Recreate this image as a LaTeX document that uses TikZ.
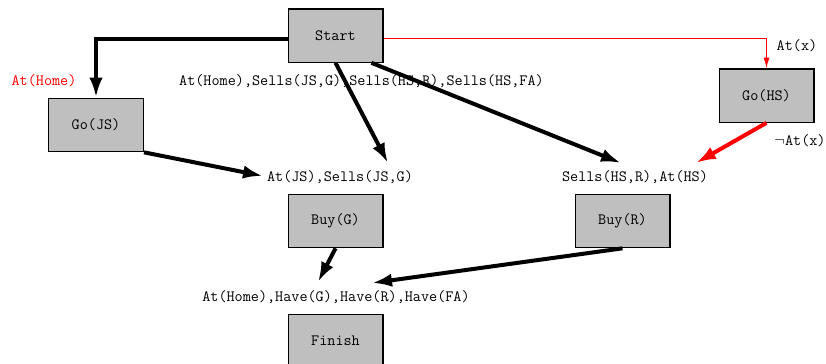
\documentclass[tikz,border=0pt]{standalone}
\usepackage{fontspec}
\usepackage{xcolor}
\usepackage{tikz}
\usetikzlibrary{calc, arrows.meta}

\begin{document}
\begin{tikzpicture}[x=0.75pt, y=-0.75pt,
	act/.style={draw, line width=1pt, fill=lightgray, minimum width=71pt, minimum height=40pt, inner sep=0pt, font=\fontsize{11.8}{13}\selectfont\ttfamily},
	cond/.style={inner sep=0pt, font=\fontsize{11.8}{13}\selectfont\ttfamily},
	link/.style={line width=3pt, -{Latex[length=15pt,width=10pt]}},
	thin link/.style={red, line width=0.75pt, -{Latex[length=8pt,width=4.5pt]}}]
	\useasboundingbox (0,0) rectangle (826,364);
	% actions
	\node[act] (Start) at (335.5,35.5) {Start};
	\node[act] (GoJS) at (96,125) {Go(JS)};
	\node[act] (GoHS) at (766.5,95.5) {Go(HS)};
	\node[act] (BuyG) at (335.5,221) {Buy(G)};
	\node[act] (BuyR) at (622.5,221) {Buy(R)};
	\node[act] (Finish) at (335.5,341) {Finish};
	% preconditions
	\node[cond] (pStart) at (361.5,81) {At(Home),Sells(JS,G),Sells(HS,R),Sells(HS,FA)};
	\node[cond, red] (pGoJS) at (44,81) {At(Home)};
	\node[cond] (pBuyG) at (340,177) {At(JS),Sells(JS,G)};
	\node[cond] (pBuyR) at (635,177) {Sells(HS,R),At(HS)};
	\node[cond] (pFinish) at (336,297) {At(Home),Have(G),Have(R),Have(FA)};
	\node[cond] (pGoHS) at (797,46) {At(x)};
	\node[cond] (eGoHS) at (800,141) {$\neg$At(x)};
	% arrow tips
	\coordinate (tG1) at (388,163);
	\coordinate (tG2) at (263,176);
	\coordinate (tR1) at (621,163);
	\coordinate (tR2) at (696,163);
	\coordinate (tF1) at (318,282);
	\coordinate (tF2) at (372,283);
	% links
	\draw[link] ($(Start.west)+(0,3)$) -| (GoJS.north);
	\draw[thin link] ($(Start.east)+(0,3)$) -| (GoHS.north);
	\draw[link] (Start.south) -- (tG1);
	\draw[link] ($(Start.south)+(36,0)$) -- (tR1);
	\draw[link] (GoJS.south east) -- (tG2);
	\draw[link, red] (GoHS.south) -- (tR2);
	\draw[link] (BuyG.south) -- (tF1);
	\draw[link] (BuyR.south) -- (tF2);
\end{tikzpicture}
\end{document}
